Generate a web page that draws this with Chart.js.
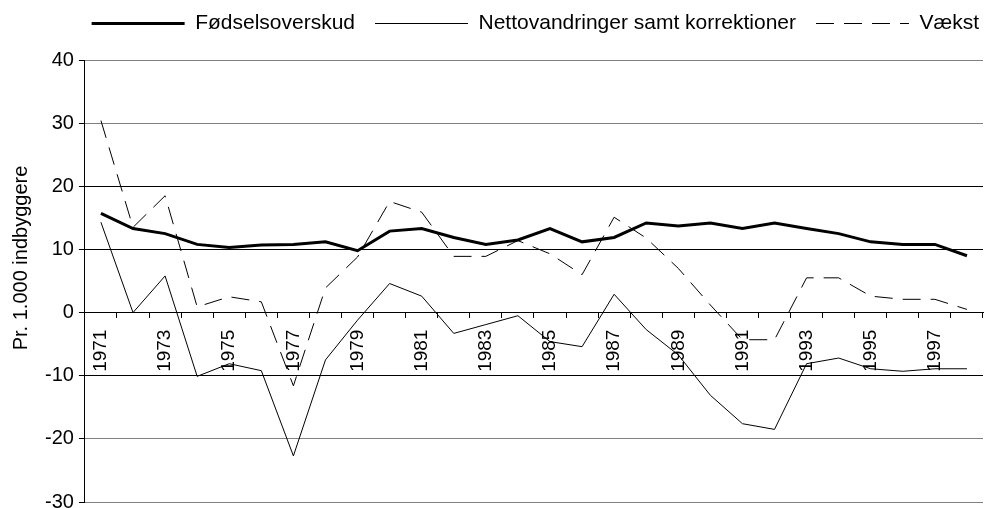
<!DOCTYPE html>
<html>
<head>
<meta charset="utf-8">
<script src="https://cdn.jsdelivr.net/npm/chart.js@4"></script>
<style>
  html, body { margin: 0; padding: 0; background: #fff; }
  canvas { display: block; }
</style>
</head>
<body>
<canvas id="chart" width="986" height="508"></canvas>
<script>
// Befolkningsudvikling pr. 1.000 indbyggere, 1971-1998
const years = ['1971','1972','1973','1974','1975','1976','1977','1978','1979','1980',
  '1981','1982','1983','1984','1985','1986','1987','1988','1989','1990',
  '1991','1992','1993','1994','1995','1996','1997','1998'];

const fodselsoverskud = [15.7, 13.3, 12.5, 10.8, 10.3, 10.7, 10.8, 11.2, 9.8, 12.9,
  13.3, 11.9, 10.8, 11.5, 13.3, 11.2, 11.9, 14.2, 13.7, 14.2,
  13.3, 14.2, 13.3, 12.5, 11.2, 10.8, 10.8, 9.0];

const nettovandringer = [14.3, 0.0, 5.8, -10.1, -8.1, -9.2, -22.7, -7.5, -1.2, 4.6,
  2.6, -3.3, -1.9, -0.5, -4.6, -5.4, 2.9, -2.7, -6.7, -13.1,
  -17.6, -18.5, -8.1, -7.2, -8.9, -9.3, -8.9, -8.9];

const vaekst = [30.4, 13.5, 18.5, 0.9, 2.5, 1.7, -11.6, 3.9, 8.8, 17.6,
  15.9, 8.9, 8.9, 11.4, 9.3, 6.0, 15.1, 11.8, 7.0, 1.2,
  -4.3, -4.3, 5.5, 5.5, 2.6, 2.1, 2.1, 0.5];

const yTicks = [-30, -20, -10, 0, 10, 20, 30, 40];
const blackGrid = [-10, 0, 10, 20]; // de øvrige linjer er grå
const yTitle = 'Pr. 1.000 indbyggere';

const font = 'Liberation Sans, Arial, sans-serif';

// ekstra luft under forklaringen, og forklaringen skubbet lidt til højre
const legendSpace = {
  id: 'legendSpace',
  beforeInit(chart) {
    const fit = chart.legend.fit;
    chart.legend.fit = function() {
      fit.bind(chart.legend)();
      this.height += 16;
    };
  },
  afterLayout(chart) {
    chart.legend.left += 16;
    chart.legend.right += 16;
  }
};

// y-aksens titel, tegnet lidt over midten som i originalen
const yAxisTitle = {
  id: 'yAxisTitle',
  afterDraw(chart) {
    const ctx = chart.ctx;
    ctx.save();
    ctx.translate(21, 258);
    ctx.rotate(-Math.PI / 2);
    ctx.font = '20px ' + font;
    ctx.fillStyle = '#000';
    ctx.textAlign = 'center';
    ctx.textBaseline = 'middle';
    ctx.fillText(yTitle, 0, 0);
    ctx.restore();
  }
};

// ingen ekstra plads til tekster der stikker ud over plotområdet
function noOverhang(scale) {
  scale.paddingTop = 0;
  scale.paddingBottom = 0;
  scale.paddingLeft = 0;
  scale.paddingRight = 0;
}

new Chart(document.getElementById('chart'), {
  type: 'line',
  data: {
    labels: years,
    datasets: [
      { label: 'Fødselsoverskud', data: fodselsoverskud, borderColor: '#000', borderWidth: 3 },
      { label: 'Nettovandringer samt korrektioner', data: nettovandringer, borderColor: '#000', borderWidth: 1 },
      { label: 'Vækst', data: vaekst, borderColor: '#000', borderWidth: 1, borderDash: [18, 10] }
    ]
  },
  options: {
    responsive: false,
    animation: false,
    elements: {
      point: { radius: 0 },
      line: { tension: 0, fill: false, borderCapStyle: 'butt' }
    },
    layout: { padding: { left: 40, right: 3, top: -7, bottom: 6 } },
    plugins: {
      tooltip: { enabled: false },
      legend: {
        position: 'top',
        align: 'end',
        labels: {
          usePointStyle: true,
          pointStyle: 'line',
          pointStyleWidth: 93,
          boxHeight: 20,
          padding: 20,
          color: '#000',
          font: { family: font, size: 21 },
          generateLabels: function(chart) {
            const items = Chart.defaults.plugins.legend.labels.generateLabels(chart);
            items.forEach(item => {
              const ds = chart.data.datasets[item.datasetIndex];
              item.lineWidth = ds.borderWidth;
              item.lineDash = ds.borderDash || [];
              item.strokeStyle = ds.borderColor;
              item.pointStyle = 'line';
            });
            return items;
          }
        }
      }
    },
    scales: {
      x: {
        type: 'category',
        position: { y: 0 },
        offset: true,
        afterFit: noOverhang,
        grid: { offset: true, drawOnChartArea: false, drawTicks: true, tickLength: 5, tickColor: '#000' },
        border: { display: true, color: '#000', width: 1 },
        ticks: {
          autoSkip: false,
          minRotation: 90,
          maxRotation: 90,
          padding: 12,
          color: '#000',
          font: { family: font, size: 19 },
          callback: function(value, index) {
            return index % 2 === 0 ? years[index] : '';
          }
        }
      },
      y: {
        min: -30,
        max: 40,
        afterFit: noOverhang,
        afterBuildTicks: function(axis) {
          axis.ticks = yTicks.map(v => ({ value: v }));
        },
        grid: {
          color: ctx => blackGrid.includes(ctx.tick && ctx.tick.value) ? '#000' : '#808080',
          tickColor: '#000',
          tickLength: 6,
          lineWidth: 1
        },
        border: { display: true, color: '#000', width: 1 },
        ticks: {
          padding: 5,
          color: '#000',
          font: { family: font, size: 20 }
        }
      }
    }
  },
  plugins: [legendSpace, yAxisTitle]
});
</script>
</body>
</html>
